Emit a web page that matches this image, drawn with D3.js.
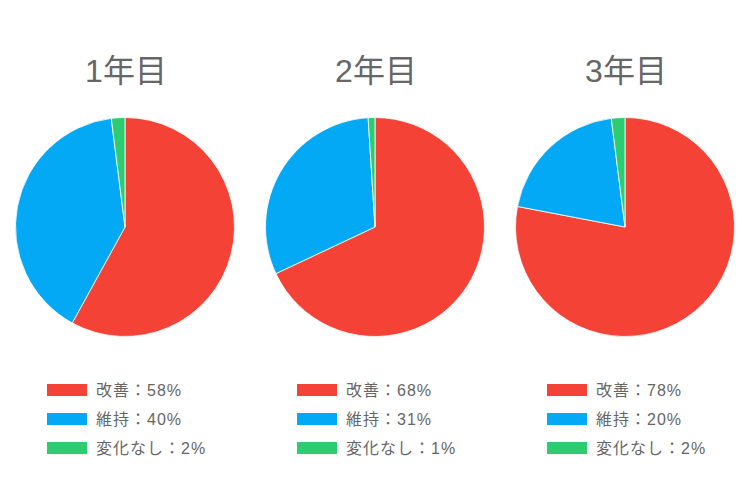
<!DOCTYPE html>
<html><head><meta charset="utf-8">
<script src="https://cdn.jsdelivr.net/npm/d3@7"></script>
<style>
html,body{margin:0;padding:0;background:#fff;}
svg{display:block;font-family:"Liberation Sans","Noto Sans CJK JP",sans-serif;}
</style></head>
<body>
<svg id="chart" width="750" height="500"></svg>
<script>
const titles = ["1年目", "2年目", "3年目"];
const categories = ["改善", "維持", "変化なし"];
const year1 = [58, 40, 2];
const year2 = [68, 31, 1];
const year3 = [78, 20, 2];
const colors = ["#F44336", "#03A9F4", "#2ECC71"];

const series = [year1, year2, year3];
const svg = d3.select("#chart");
const x = d3.scalePoint().domain(titles).range([125, 625]);
const color = d3.scaleOrdinal().domain(categories).range(colors);
const pie = d3.pie().sort(null).value(d => d.v);
const arc = d3.arc().innerRadius(0).outerRadius(109.5);

titles.forEach((t, i) => {
  const cx = x(t);
  const g = svg.append("g");
  g.append("text").attr("x", cx + 1).attr("y", 82)
    .attr("text-anchor", "middle").attr("font-size", 32).attr("fill", "#666")
    .text(t);
  const data = categories.map((c, j) => ({c, v: series[i][j]}));
  g.append("g").attr("transform", `translate(${cx},227)`)
    .selectAll("path").data(pie(data)).join("path")
    .attr("d", arc).attr("fill", d => color(d.data.c))
    .attr("stroke", "#fff").attr("stroke-width", 0.8);
  const lg = g.append("g").attr("transform", `translate(${cx - 78},384)`);
  data.forEach((d, j) => {
    lg.append("rect").attr("x", 0).attr("y", j * 29).attr("width", 40).attr("height", 12)
      .attr("fill", color(d.c));
    lg.append("text").attr("x", 49).attr("y", j * 29 + 12)
      .attr("font-size", 16).attr("fill", "#666").attr("letter-spacing", 1)
      .text(`${d.c}：${d.v}%`);
  });
});
</script>
</body></html>
